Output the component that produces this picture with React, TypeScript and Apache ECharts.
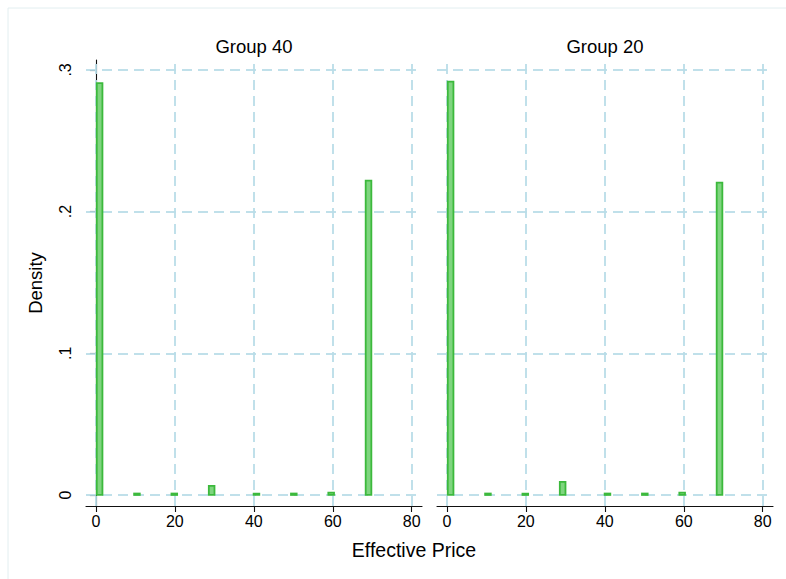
import React, { useEffect, useRef } from "react";
import * as echarts from "echarts";

// Histogram bins: 37 bins of equal width over [0, 70]
const binCount = 37;
const binRangeMax = 70;
const binIndex = [0, 5, 10, 15, 21, 26, 31, 36];
const group40Density = [0.2907, 0.0010, 0.0010, 0.0064, 0.0010, 0.0010, 0.0017, 0.2218];
const group20Density = [0.2918, 0.0010, 0.0007, 0.0092, 0.0010, 0.0010, 0.0017, 0.2205];
const panelTitles = ["Group 40", "Group 20"];
const xTicks = [0, 20, 40, 60, 80];
const yTicks = [0, 0.1, 0.2, 0.3];
const xTitle = "Effective Price";
const yTitle = "Density";

const FONT = "'Liberation Sans', Arial, Helvetica, sans-serif";
const GRID_COLOR = "#b9dde8";
const FILL = "#7fd57f";
const STROKE = "#3cb93c";

function buildData(dens: number[]) {
  const w = binRangeMax / binCount;
  return binIndex.map((b, i) => [b * w, (b + 1) * w, dens[i]]);
}

function renderBar(params: any, api: any) {
  const x0 = api.value(0);
  const x1 = api.value(1);
  const h = api.value(2);
  const pTop = api.coord([x0, h]);
  const pBot = api.coord([x1, 0]);
  const lw = 1.8;
  const half = lw / 2;
  const height = Math.max(pBot[1] - pTop[1], 1.3);
  return {
    type: "rect",
    shape: {
      x: pTop[0] + half,
      y: pBot[1] - height,
      width: pBot[0] - pTop[0] - lw,
      height: height,
    },
    style: { fill: FILL, stroke: STROKE, lineWidth: lw },
  };
}

function gridMarkLine() {
  return {
    silent: true,
    symbol: "none",
    z: 1,
    label: { show: false },
    lineStyle: { color: GRID_COLOR, type: [10, 6], width: 2, opacity: 0.9 },
    emphasis: { disabled: true },
    data: [
      ...xTicks.map((v) => ({ xAxis: v })),
      ...yTicks.map((v) => ({ yAxis: v })),
    ],
  };
}

export default function App() {
  const ref = useRef<HTMLDivElement>(null);
  useEffect(() => {
    document.body.style.margin = "0";
    if (!ref.current) return;
    const chart = echarts.init(ref.current, undefined, { renderer: "svg" });
    const xMin = -2.5;
    const xMax = 82.6;
    const yMin = -0.0078;
    const yMax = 0.307;
    const xAxisBase = (gi: number) => ({
      type: "value",
      gridIndex: gi,
      min: xMin,
      max: xMax,
      axisLine: { show: true, onZero: false, lineStyle: { color: "#111", width: 1.1 } },
      axisTick: { show: true, customValues: xTicks, length: 6, lineStyle: { color: "#111", width: 1.1 } },
      axisLabel: {
        show: true,
        customValues: xTicks,
        fontSize: 16,
        color: "#000",
        fontFamily: FONT,
        margin: 7,
      },
      splitLine: { show: false },
    });
    chart.setOption({
      animation: false,
      backgroundColor: "#ffffff",
      grid: [
        { left: 86, top: 60, width: 336, height: 446 },
        { left: 437, top: 60, width: 336, height: 446 },
      ],
      xAxis: [xAxisBase(0), xAxisBase(1)],
      yAxis: [
        {
          type: "value",
          gridIndex: 0,
          min: yMin,
          max: yMax,
          axisLine: { show: true, lineStyle: { color: "#111", width: 1.1 } },
          axisTick: { show: true, customValues: yTicks, length: 6, lineStyle: { color: "#111", width: 1.1 } },
          axisLabel: {
            show: true,
            customValues: yTicks,
            rotate: 90,
            fontSize: 16,
            color: "#000",
            fontFamily: FONT,
            margin: 13,
            formatter: (v: number) => (v === 0 ? "0" : v.toFixed(1).replace(/^0/, "")),
          },
          splitLine: { show: false },
        },
        {
          type: "value",
          gridIndex: 1,
          min: yMin,
          max: yMax,
          axisLine: { show: false },
          axisTick: { show: false },
          axisLabel: { show: false },
          splitLine: { show: false },
        },
      ],
      series: [
        {
          type: "custom",
          name: panelTitles[0],
          xAxisIndex: 0,
          yAxisIndex: 0,
          renderItem: renderBar,
          encode: { x: [0, 1], y: 2 },
          data: buildData(group40Density),
          markLine: gridMarkLine(),
          z: 2,
        },
        {
          type: "custom",
          name: panelTitles[1],
          xAxisIndex: 1,
          yAxisIndex: 1,
          renderItem: renderBar,
          encode: { x: [0, 1], y: 2 },
          data: buildData(group20Density),
          markLine: gridMarkLine(),
          z: 2,
        },
      ],
      graphic: [
        {
          type: "rect",
          silent: true,
          shape: { x: 8, y: 8, width: 800, height: 600 },
          style: { fill: "none", stroke: "#e2eef0", lineWidth: 1 },
          z: -10,
        },
        {
          type: "text",
          x: 254,
          y: 46,
          style: { text: panelTitles[0], fontSize: 18.5, fontFamily: FONT, fill: "#000", align: "center", verticalAlign: "middle" },
        },
        {
          type: "text",
          x: 605,
          y: 46,
          style: { text: panelTitles[1], fontSize: 18.5, fontFamily: FONT, fill: "#000", align: "center", verticalAlign: "middle" },
        },
        {
          type: "text",
          x: 414,
          y: 550,
          style: { text: xTitle, fontSize: 19.5, fontFamily: FONT, fill: "#000", align: "center", verticalAlign: "middle" },
        },
        {
          type: "text",
          x: 35,
          y: 283,
          rotation: Math.PI / 2,
          style: { text: yTitle, fontSize: 18.5, fontFamily: FONT, fill: "#000", align: "center", verticalAlign: "middle" },
        },
      ],
    });
    return () => chart.dispose();
  }, []);
  return <div ref={ref} style={{ width: 786, height: 579, overflow: "hidden" }} />;
}
